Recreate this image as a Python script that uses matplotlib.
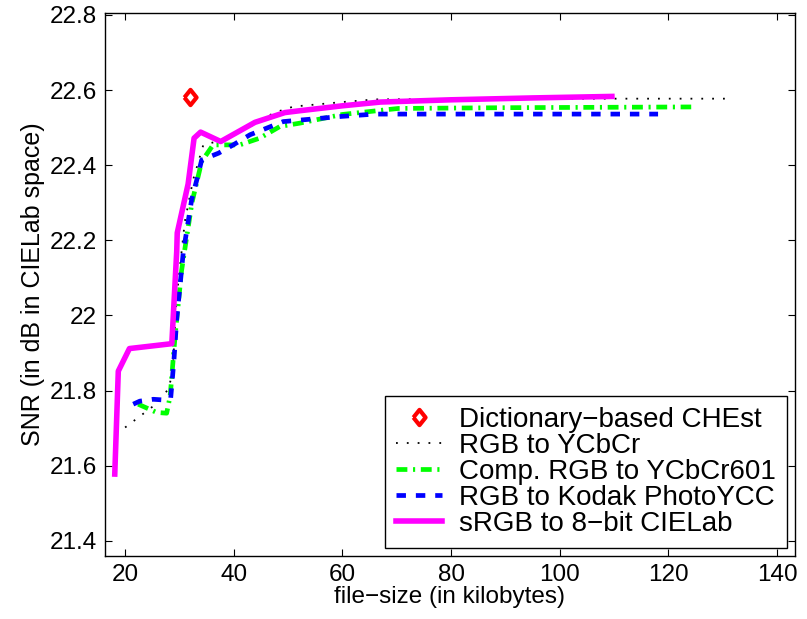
import matplotlib
matplotlib.use("Agg")
import matplotlib.pyplot as plt

plt.rcParams['font.family'] = ['Liberation Sans', 'DejaVu Sans']

# values
chest_x = [32.0]
chest_y = [22.582]

ycbcr_x = [20.0, 23.2, 25.2, 26.9, 27.95, 28.75, 29.5, 31.0, 32.5, 34.4, 38.0, 41.1, 44.8, 47.3, 51.0, 60.0, 66.0, 90.0, 130.4]
ycbcr_y = [21.702, 21.737, 21.759, 21.787, 21.803, 21.849, 22.05, 22.25, 22.36, 22.454, 22.467, 22.49, 22.516, 22.539, 22.556, 22.568, 22.575, 22.577, 22.577]

ycbcr601_x = [22.4, 25.8, 27.65, 28.3, 29.2, 30.4, 32.3, 34.1, 36.2, 41.1, 44.8, 48.5, 52.2, 60.0, 70.3, 90.0, 124.2]
ycbcr601_y = [21.764, 21.742, 21.74, 21.786, 21.945, 22.12, 22.3, 22.41, 22.454, 22.454, 22.472, 22.503, 22.512, 22.535, 22.551, 22.553, 22.555]

kodak_x = [21.5, 22.7, 25.2, 27.3, 28.4, 29.0, 29.5, 30.4, 30.7, 32.25, 33.2, 34.1, 37.2, 39.9, 43.0, 49.1, 52.2, 60.0, 66.0, 80.0, 118.1]
kodak_y = [21.764, 21.772, 21.777, 21.775, 21.781, 21.883, 21.99, 22.122, 22.167, 22.308, 22.361, 22.414, 22.432, 22.454, 22.481, 22.516, 22.52, 22.53, 22.536, 22.536, 22.536]

cielab_x = [18.1, 18.75, 20.8, 28.6, 29.5, 29.6, 31.6, 32.7, 33.9, 37.6, 43.9, 49.4, 52.2, 60.0, 67.0, 80.0, 95.0, 109.6]
cielab_y = [21.578, 21.852, 21.912, 21.925, 22.17, 22.22, 22.35, 22.472, 22.488, 22.463, 22.514, 22.54, 22.545, 22.558, 22.568, 22.574, 22.579, 22.583]

xticks = [20, 40, 60, 80, 100, 120, 140]
yticks = [21.4, 21.6, 21.8, 22.0, 22.2, 22.4, 22.6, 22.8]
ytick_labels = ['21.4', '21.6', '21.8', '22', '22.2', '22.4', '22.6', '22.8']

fig = plt.figure(figsize=(8.07, 6.19), dpi=100)
ax = fig.add_axes([0.1301, 0.1018, 0.855, 0.8772])

diamond = [(-0.8, 0), (0, 1), (0.8, 0), (0, -1), (-0.8, 0)]
ax.plot(chest_x, chest_y, linestyle='none', marker=diamond, markersize=11,
        markerfacecolor='white', markeredgecolor='red', markeredgewidth=3,
        label='Dictionary\u2212based CHEst')
ax.plot(ycbcr_x, ycbcr_y, color='black', linestyle=(0, (1, 5)), linewidth=1.3,
        label='RGB to YCbCr')
ax.plot(ycbcr601_x, ycbcr601_y, color=(0, 1, 0), linestyle=(0, (2.3, 1.2, 0.45, 1.2)),
        linewidth=3.4, label='Comp. RGB to YCbCr601')
ax.plot(kodak_x, kodak_y, color=(0, 0, 1), linestyle=(0, (2.0, 2.1)),
        linewidth=3.4, label='RGB to Kodak PhotoYCC')
ax.plot(cielab_x, cielab_y, color=(1, 0, 1), linewidth=4,
        label='sRGB to 8\u2212bit CIELab')

ax.set_xlim(16.3, 143.3)
ax.set_ylim(21.36, 22.805)
ax.set_xticks(xticks)
ax.set_yticks(yticks)
ax.set_yticklabels(ytick_labels)
ax.tick_params(axis='both', direction='in', top=True, right=True, length=5,
               width=0.8, labelsize=17.5)
ax.tick_params(axis='x', pad=6)
ax.tick_params(axis='y', pad=6)
for s in ax.spines.values():
    s.set_linewidth(1.0)

ax.set_xlabel('file\u2212size (in kilobytes)', fontsize=17.5, labelpad=0)
ax.set_ylabel('SNR (in dB in CIELab space)', fontsize=18, labelpad=3)

leg = ax.legend(loc='lower right', bbox_to_anchor=(0.988, 0.0147),
                borderaxespad=0, fontsize=20, frameon=True, fancybox=False,
                edgecolor='black', framealpha=1, handlelength=1.65,
                labelspacing=0.0, handletextpad=0.6, borderpad=0.4)
leg.get_frame().set_linewidth(1.0)

fig.savefig('out.png', dpi=100)
